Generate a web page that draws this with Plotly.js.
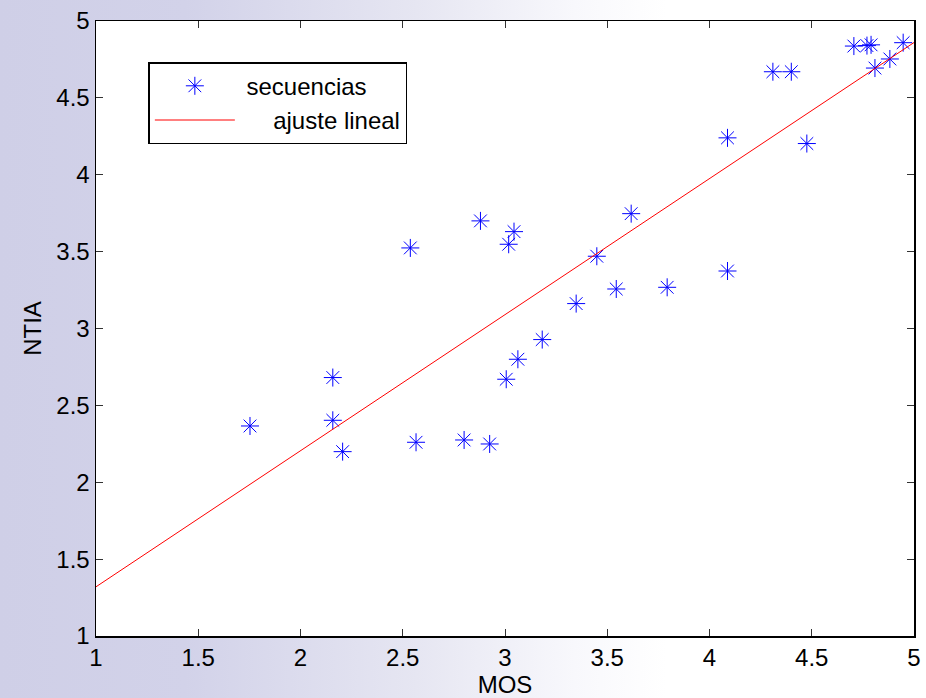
<!DOCTYPE html>
<html>
<head>
<meta charset="utf-8">
<script src="https://cdn.plot.ly/plotly-3.0.1.min.js"></script>
<style>
html, body { margin:0; padding:0; width:926px; height:698px; overflow:hidden;
  background: linear-gradient(to right, #cfcfe7 0%, #d2d2e9 20%, #e6e6f2 45%, #f8f8fc 62%, #ffffff 72%); }
#chart { width:926px; height:698px; }
</style>
</head>
<body>
<div id="chart"></div>
<script>
// Data
const mos  = [1.753, 2.158, 2.158, 2.206, 2.537, 2.565, 2.800, 2.880, 2.925, 3.006,
              3.018, 3.044, 3.063, 3.182, 3.348, 3.449, 3.544, 3.617, 3.793, 4.088,
              4.088, 4.310, 4.400, 4.476, 4.706, 4.770, 4.790, 4.809, 4.882, 4.947];
const ntia = [2.366, 2.681, 2.403, 2.199, 3.524, 2.260, 2.275, 3.700, 2.249, 2.670,
              3.548, 3.630, 2.800, 2.928, 3.162, 3.470, 3.257, 3.747, 3.268, 4.240,
              3.374, 4.670, 4.670, 4.203, 4.837, 4.840, 4.845, 4.694, 4.753, 4.859];
const fitX = [1, 5];
const fitY = [1.32, 4.86];
const xTicks = [1, 1.5, 2, 2.5, 3, 3.5, 4, 4.5, 5];
const yTicks = [1, 1.5, 2, 2.5, 3, 3.5, 4, 4.5, 5];
const seriesNames = ['\u00a0secuencias', '\u00a0\u00a0\u00a0\u00a0\u00a0ajuste lineal'];

const font = {family: '"Liberation Sans", Arial, sans-serif', size: 24, color: '#000'};

const traces = [
  {x: mos, y: ntia, mode: 'markers', type: 'scatter', name: seriesNames[0],
   marker: {symbol: 'asterisk-open', size: 15, color: '#0000ff', line: {color: '#0000ff', width: 1}}},
  {x: fitX, y: fitY, mode: 'lines', type: 'scatter', name: seriesNames[1],
   line: {color: '#ff0000', width: 1}}
];

const axisCommon = {
  showgrid: false, zeroline: false, showline: true, linecolor: '#000', linewidth: 1.5,
  mirror: 'ticks', ticks: 'inside', ticklen: 7, tickcolor: '#333', tickwidth: 1,
  tickfont: font, tickmode: 'array'
};

const layout = {
  width: 926, height: 698,
  margin: {l: 96, r: 12, t: 21, b: 62},
  paper_bgcolor: 'rgba(0,0,0,0)', plot_bgcolor: '#ffffff',
  font: font,
  showlegend: true,
  legend: {x: 0.064, y: 0.933, xanchor: 'left', yanchor: 'top',
           bgcolor: '#ffffff', bordercolor: '#000', borderwidth: 1.5,
           font: font, itemwidth: 80, tracegroupgap: 0},
  xaxis: Object.assign({}, axisCommon, {range: [1, 5], tickvals: xTicks,
           ticktext: xTicks.map(String),
           title: {text: 'MOS', font: font, standoff: 3}}),
  yaxis: Object.assign({}, axisCommon, {range: [1, 5], tickvals: yTicks,
           ticktext: yTicks.map(String),
           title: {text: 'NTIA', font: font, standoff: 8}})
};

Plotly.newPlot('chart', traces, layout, {displayModeBar: false, staticPlot: true});
</script>
</body>
</html>
